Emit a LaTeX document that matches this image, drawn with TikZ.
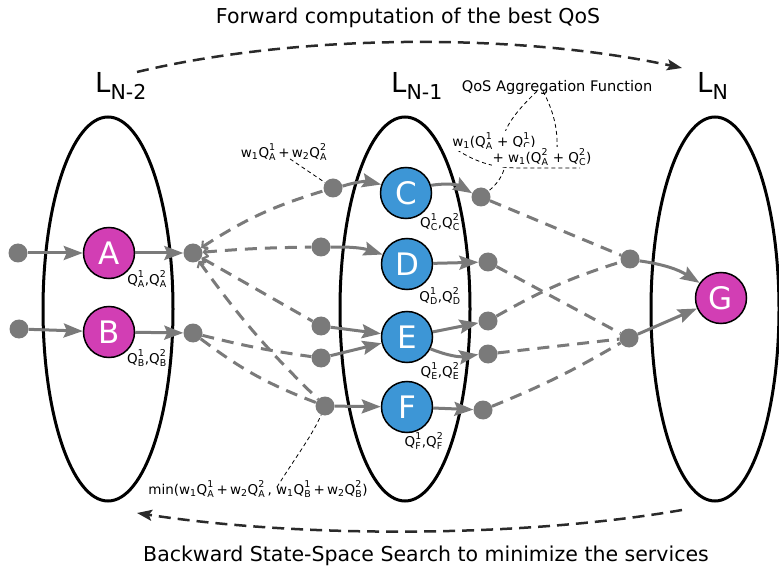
\documentclass[tikz,border=0pt]{standalone}
\usepackage{amsmath}
\usepackage{fontspec}
\setmainfont{DejaVu Sans}
\usetikzlibrary{arrows.meta}
\definecolor{svcblue}{HTML}{3D96D6}
\definecolor{svcpink}{HTML}{D23EB4}
\definecolor{linkgray}{HTML}{7A7A7A}
\definecolor{sweepgray}{HTML}{2A2A2A}
% QoS symbols: Q with stacked super/subscript, weights w_i
\newcommand\QQ[2]{\ensuremath{\text{Q}^{\text{#1}}_{\text{#2}}}}
\newcommand\ww[1]{\ensuremath{\text{w}_{\text{#1}}}}
\newcommand\lsub[1]{\raisebox{-7pt}{\fontsize{20.5}{20.5}\selectfont #1}}
\tikzset{
  layer/.style={draw=black, line width=3pt},
  laylab/.style={font=\fontsize{27.5}{27.5}\selectfont, inner sep=0pt, anchor=base west},
  svc/.style={circle, draw=black, line width=1.5pt, minimum size=51pt, inner sep=0pt,
    text=white, font=\fontsize{31}{31}\selectfont},
  dot/.style={circle, fill=linkgray, minimum size=19pt, inner sep=0pt},
  flow/.style={linkgray, line width=3pt, -{Stealth[length=19pt,width=14pt,inset=3pt]}},
  alt/.style={linkgray, line width=3pt, dash pattern=on 12pt off 8pt},
  altin/.style={alt, {Straight Barb[length=4pt,width=10pt,line width=2pt]}-},
  note/.style={black, line width=0.8pt, dash pattern=on 4pt off 3pt},
  sweep/.style={sweepgray, line width=2.5pt, dash pattern=on 12pt off 7pt,
    -{Stealth[length=15pt,width=11pt,inset=3pt]}},
  qlab/.style={font=\fontsize{13.5}{15}\selectfont, inner sep=0pt},
  title/.style={font=\fontsize{20.5}{24}\selectfont, inner sep=0pt},
}
\begin{document}
\begin{tikzpicture}[x=1pt,y=-1pt]
\useasboundingbox (0,0) rectangle (779,569);

% the three layers
\draw[layer] (108,309) ellipse [x radius=65, y radius=192];
\draw[layer] (405,309) ellipse [x radius=65, y radius=192];
\draw[layer] (715,309) ellipse [x radius=64, y radius=192];

\node[laylab] (lN2) at (95,93) {L\lsub{N-2}};
\node[laylab] (lN1) at (391,93) {L\lsub{N-1}};
\node[laylab] (lN)  at (697,93) {L\lsub{N}};

% titles and sweep arrows
\node[title] (fwd) at (408,18) {Forward computation of the best QoS};
\node[title] (bwd) at (426,556) {Backward State-Space Search to minimize the services};
\coordinate (fwdS) at (137,72);
\coordinate (fwdE) at (682,68);
\coordinate (bwdS) at (682,510);
\coordinate (bwdE) at (137,513);
\draw[sweep] (fwdS) .. controls (300,33) and (520,33) .. (fwdE);
\draw[sweep] (bwdS) .. controls (520,538) and (300,538) .. (bwdE);

% services
\node[svc, fill=svcpink] (A) at (109,253) {A};
\node[svc, fill=svcpink] (B) at (109,332) {B};
\node[svc, fill=svcblue] (C) at (406,193) {C};
\node[svc, fill=svcblue] (D) at (407,264) {D};
\node[svc, fill=svcblue] (E) at (407,337) {E};
\node[svc, fill=svcblue] (F) at (407,407) {F};
\node[svc, fill=svcpink] (G) at (721,298) {G};

% QoS values of each service
\node[qlab] (qA) at (147,279) {\QQ1A,\QQ2A};
\node[qlab] (qB) at (147,358) {\QQ1B,\QQ2B};
\node[qlab] (qC) at (440,222) {\QQ1C,\QQ2C};
\node[qlab] (qD) at (440,296) {\QQ1D,\QQ2D};
\node[qlab] (qE) at (440,371) {\QQ1E,\QQ2E};
\node[qlab] (qF) at (424,441) {\QQ1F,\QQ2F};

% input / output parameters
\node[dot] (inA) at (18,253) {};
\node[dot] (inB) at (19,329) {};
\node[dot] (outA) at (193,253) {};
\node[dot] (outB) at (193,333) {};
\node[dot] (inC) at (333,188) {};
\node[dot] (inD) at (321,247) {};
\node[dot] (inE1) at (321,326) {};
\node[dot] (inE2) at (321,358) {};
\node[dot] (inF) at (325,406) {};
\node[dot] (outC) at (481,197) {};
\node[dot] (outD) at (488,262) {};
\node[dot] (outE1) at (488,321) {};
\node[dot] (outE2) at (488,354) {};
\node[dot] (outF) at (483,410) {};
\node[dot] (inG1) at (630,259) {};
\node[dot] (inG2) at (629,338) {};

% service invocations
\draw[flow] (inA) -- (A);
\draw[flow] (inB) -- (B);
\draw[flow] (A) -- (outA);
\draw[flow] (B) -- (outB);
\draw[flow] (inC) to[bend left=15] (C);
\draw[flow] (inD) to[bend left=10] (D);
\draw[flow] (inE1) -- (E);
\draw[flow] (inE2) -- (E);
\draw[flow] (inF) -- (F);
\draw[flow] (C) to[bend left=20] (outC);
\draw[flow] (D) -- (outD);
\draw[flow] (E) -- (outE1);
\draw[flow] (E) to[bend right=15] (outE2);
\draw[flow] (F) -- (outF);
\draw[flow] (inG1) to[bend left=12] (G);
\draw[flow] (inG2) -- (G);

% parameter matching between layers
\draw[altin] (outA) to[bend left=8] (inC);
\draw[altin] (outA) to[bend left=2] (inD);
\draw[altin] (outA) -- (inE1);
\draw[altin] (outA) to[bend right=5] (inF);
\draw[alt] (outB) to[bend right=3] (inE2);
\draw[alt] (outB) to[bend right=8] (inF);
\draw[alt] (outC) -- (inG1);
\draw[alt] (outD) -- (inG2);
\draw[alt] (outE1) to[bend left=6] (inG1);
\draw[alt] (outE2) -- (inG2);
\draw[alt] (outF) to[bend right=4] (inG2);

% annotations
\node[qlab] (wA) at (284,152) {\ww1\QQ1A\,+\,\ww2\QQ2A};
\draw[note] ([xshift=6pt,yshift=2pt]wA.south) -- (inC);

\node[qlab, font=\fontsize{14.6}{16}\selectfont] (qos) at (557,87) {QoS Aggregation Function};
\draw[note] ([xshift=-20pt,yshift=3pt]qos.south) .. controls (512,115) and (498,135) .. (504,152)
  .. controls (509,167) and (500,182) .. (outC);
\draw[note] ([xshift=-14pt,yshift=3pt]qos.south) .. controls (553,110) and (558,128) .. (557,150);
\draw[note] (457,150) .. controls (478,163) and (495,168) .. (520,168) -- (580,168);
\node[qlab, fill=white, inner sep=1pt] (agg1) at (494,141) {\ww1(\QQ1A + \QQ1C)};
\node[qlab, fill=white, inner sep=1pt] (agg2) at (542,157) {+ \ww1(\QQ2A + \QQ2C)};

\node[qlab] (minf) at (258,489) {min(\ww1\QQ1A\,+\,\ww2\QQ2A\,, \ww1\QQ1B\,+\,\ww2\QQ2B)};
\draw[note] ([xshift=19pt,yshift=-7pt]minf.north) .. controls (295,458) and (312,436) .. (inF);
\end{tikzpicture}
\end{document}
